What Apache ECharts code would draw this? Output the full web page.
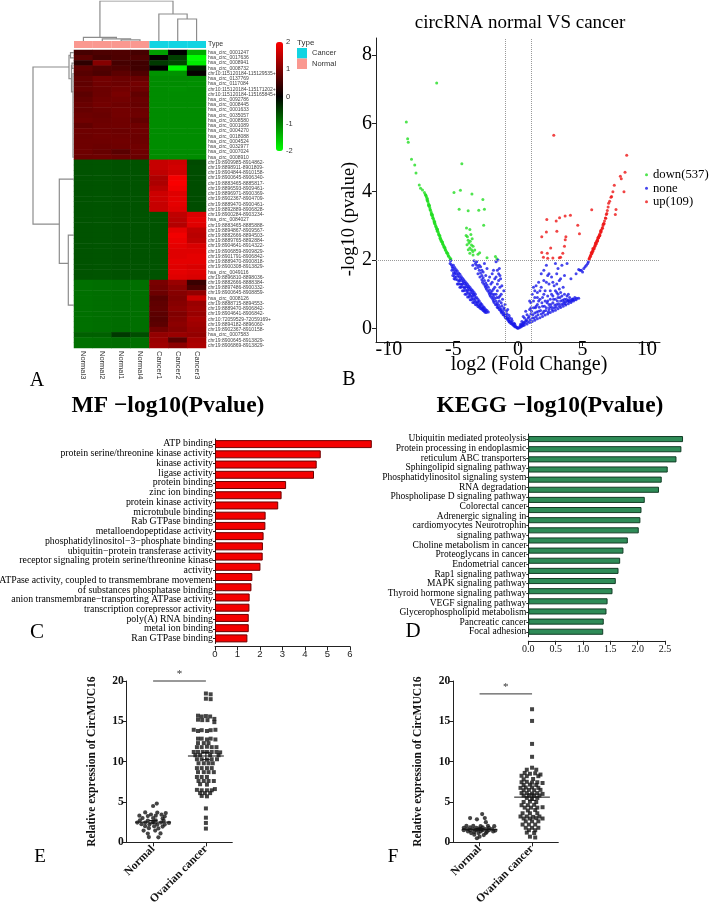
<!DOCTYPE html>
<html><head><meta charset="utf-8">
<script src="https://cdn.jsdelivr.net/npm/echarts@6/dist/echarts.min.js"></script>
<style>html,body{margin:0;padding:0;background:#fff}#chart{width:709px;height:908px}</style>
</head><body><div id="chart"></div>
<script>
const SERIF = "'Liberation Serif','Times New Roman',serif";
const SANS = "'Liberation Sans',Arial,sans-serif";

// ---------- Panel A: heatmap ----------
const samples = ['Normal3','Normal2','Normal1','Normal4','Cancer1','Cancer2','Cancer3'];
const sampleType = ['Normal','Normal','Normal','Normal','Cancer','Cancer','Cancer'];
const circRNAs = [
'hsa_circ_0001247','hsa_circ_0017636','hsa_circ_0008941','hsa_circ_0008732','chr10:115120184-115129535+','hsa_circ_0137769','hsa_circ_0117084','chr10:115120184-115171202+','chr10:115120184-115165845+','hsa_circ_0092786','hsa_circ_0008445','hsa_circ_0001633','hsa_circ_0035057','hsa_circ_0008580','hsa_circ_0001089','hsa_circ_0004270','hsa_circ_0018088','hsa_circ_0004524','hsa_circ_0032977','hsa_circ_0007024','hsa_circ_0008910',
'chr19:8909985-8914862-','chr19:8898911-8901809-','chr19:8904844-8910158-','chr19:8900645-8906340-','chr19:8883465-8885817-','chr19:8896593-8909461-','chr19:8896971-8900369-','chr19:8902367-8904709-','chr19:8889470-8900461-','chr19:8892889-8906828-',
'chr19:8900284-8903234-','hsa_circ_0084027','chr19:8883465-8885888-','chr19:8894867-8909567-','chr19:8882666-8894503-','chr19:8889765-8892884-','chr19:8904641-8914322-','chr19:8906859-8909829-','chr19:8901791-8906842-','chr19:8889470-8900818-','chr19:8900308-8913829-','hsa_circ_0049116','chr19:8896810-8898036-',
'chr19:8882666-8888384-','chr19:8897486-8900332-','chr19:8900645-8908859-','hsa_circ_0008126','chr19:8888715-8894553-','chr19:8889470-8906842-','chr19:8904641-8906842-','chr10:72059529-72059169+','chr19:8894182-8896060-','chr19:8902367-8910158-','hsa_circ_0007583','chr19:8900645-8913829-','chr19:8906869-8913829-'
];
const expression = [
[0.55,0.60,0.62,0.55,-1.25,0.00,-1.35],
[0.72,0.55,0.60,0.62,0.05,-0.50,-2.00],
[0.35,1.05,0.55,0.50,-0.45,-0.55,-1.85],
[0.75,0.65,0.62,0.50,0.00,-1.95,-0.25],
[0.68,0.60,0.72,0.62,-1.15,-1.15,0.05],
[0.78,0.90,0.85,0.82,-1.10,-1.10,-1.10],
[0.75,0.88,0.85,0.90,-1.10,-1.10,-1.12],
[0.80,0.85,0.90,0.86,-1.10,-1.12,-1.10],
[0.72,0.85,0.95,0.76,-1.10,-1.10,-1.10],
[0.78,0.88,0.90,0.82,-1.10,-1.10,-1.10],
[0.82,0.90,0.86,0.80,-1.10,-1.10,-1.10],
[0.80,0.85,0.90,0.85,-1.10,-1.10,-1.10],
[0.85,0.82,0.90,0.86,-1.10,-1.10,-1.10],
[0.88,0.85,0.88,0.78,-1.10,-1.10,-1.10],
[0.78,0.86,0.88,0.86,-1.10,-1.10,-1.10],
[0.86,0.86,0.84,0.86,-1.10,-1.10,-1.10],
[0.85,0.88,0.86,0.84,-1.10,-1.10,-1.10],
[0.86,0.86,0.88,0.85,-1.10,-1.10,-1.10],
[0.86,0.84,0.86,0.88,-1.10,-1.10,-1.10],
[0.86,0.80,0.70,0.86,-1.10,-1.10,-1.10],
[0.84,0.86,0.82,0.84,-1.10,-1.10,-1.10],
[-0.65,-0.66,-0.64,-0.65,1.55,1.60,-0.58],
[-0.65,-0.66,-0.64,-0.65,1.55,1.65,-0.60],
[-0.65,-0.66,-0.64,-0.65,1.50,1.62,-0.60],
[-0.65,-0.66,-0.64,-0.65,1.35,1.92,-0.60],
[-0.65,-0.66,-0.64,-0.65,1.35,1.95,-0.60],
[-0.65,-0.66,-0.64,-0.65,1.45,1.90,-0.60],
[-0.65,-0.66,-0.64,-0.65,1.60,1.75,-0.60],
[-0.65,-0.66,-0.64,-0.65,1.60,1.80,-0.60],
[-0.65,-0.66,-0.64,-0.65,1.55,1.80,-0.60],
[-0.65,-0.66,-0.64,-0.65,1.55,1.75,-0.60],
[-0.65,-0.66,-0.64,-0.65,-0.65,1.50,1.72],
[-0.65,-0.66,-0.64,-0.65,-0.65,1.45,1.80],
[-0.65,-0.66,-0.64,-0.65,-0.65,1.40,1.75],
[-0.65,-0.66,-0.64,-0.65,-0.65,1.80,1.50],
[-0.65,-0.66,-0.64,-0.65,-0.65,1.90,1.45],
[-0.65,-0.66,-0.64,-0.65,-0.65,1.85,1.50],
[-0.65,-0.66,-0.64,-0.65,-0.65,1.80,1.70],
[-0.65,-0.66,-0.64,-0.65,-0.65,1.75,1.75],
[-0.65,-0.66,-0.64,-0.65,-0.65,1.75,1.80],
[-0.65,-0.66,-0.64,-0.65,-0.65,1.80,1.80],
[-0.65,-0.66,-0.64,-0.65,-0.65,1.75,1.70],
[-0.65,-0.66,-0.64,-0.65,-0.65,1.80,1.75],
[-0.65,-0.66,-0.64,-0.65,-0.65,1.75,1.70],
[-0.88,-0.86,-0.85,-0.87,0.95,1.20,0.45],
[-0.88,-0.86,-0.85,-0.87,0.90,1.10,0.60],
[-0.88,-0.86,-0.85,-0.87,0.85,1.05,1.15],
[-0.88,-0.86,-0.85,-0.87,0.70,1.00,1.60],
[-0.88,-0.86,-0.85,-0.87,0.75,1.05,1.20],
[-0.88,-0.86,-0.85,-0.87,0.78,1.10,1.25],
[-0.88,-0.86,-0.85,-0.87,0.72,1.00,1.20],
[-0.88,-0.86,-0.85,-0.87,0.68,1.05,1.30],
[-0.88,-0.86,-0.85,-0.87,0.72,1.10,1.25],
[-0.88,-0.86,-0.85,-0.87,0.90,1.05,1.20],
[-0.75,-0.75,-0.45,-0.60,1.15,1.20,1.15],
[-0.88,-0.86,-0.85,-0.87,1.20,0.70,1.30],
[-0.88,-0.86,-0.85,-0.87,1.25,1.10,1.35]
];
// dendrograms: [column position, merge height] and [merge height, row position]
const colDendrogram = [
 [[2.5,0],[2.5,1.2],[3.5,1.2],[3.5,0]],
 [[1.5,0],[1.5,2.2],[3.0,2.2],[3.0,1.2]],
 [[0.5,0],[0.5,3.7],[2.25,3.7],[2.25,2.2]],
 [[5.5,0],[5.5,22],[6.5,22],[6.5,0]],
 [[4.5,0],[4.5,27],[6.0,27],[6.0,22]],
 [[1.375,3.7],[1.375,40],[5.25,40],[5.25,27]]
];
const rowDendrogram = [
 [[0,0.5],[3.5,0.5],[3.5,1.5],[0,1.5]],
 [[0,2.5],[2,2.5],[2,3.5],[0,3.5]],
 [[0,4.5],[1,4.5],[1,20.5],[0,20.5]],
 [[2,3.0],[2.5,3.0],[2.5,8.0],[1,8.0]],
 [[3.5,1.0],[5,1.0],[5,5.5],[2.5,5.5]],
 [[5,3.25],[41,3.25],[41,33.3],[14.7,33.3]],
 [[0,24.7],[14.7,24.7],[14.7,40.8],[5.7,40.8]],
 [[0,35.4],[5.7,35.4],[5.7,48.8],[0,48.8]]
];
const colorbarTicks = [-2,-1,0,1,2];

// ---------- Panel B: volcano ----------
const volcanoDown = [
[-6.3,7.18],[-8.65,6.04],[-8.55,5.55],[-8.5,5.45],[-8.25,4.95],[-8.0,4.78],[-7.9,4.55],[-7.65,4.2],[-7.55,4.1],[-7.4,4.05],
[-7.25,3.98],[-7.15,3.9],[-7.1,3.85],[-7.06,3.79],[-7.0,3.74],[-6.97,3.7],[-6.92,3.64],[-6.88,3.58],[-6.83,3.53],[-6.79,3.47],[-6.74,3.42],[-6.7,3.37],[-6.66,3.33],[-6.61,3.27],[-6.57,3.22],[-6.52,3.17],[-6.48,3.12],[-6.43,3.07],[-6.39,3.02],[-6.34,2.97],[-6.3,2.93],[-6.26,2.89],[-6.21,2.84],[-6.16,2.79],[-6.12,2.75],[-6.07,2.7],[-6.02,2.65],[-5.97,2.6],[-5.92,2.56],[-5.87,2.52],[-5.82,2.47],[-5.77,2.43],[-5.72,2.39],[-5.67,2.35],[-5.62,2.3],[-5.56,2.26],[-5.5,2.21],[-5.43,2.16],[-5.36,2.11],[-5.28,2.07],[-5.2,2.03],
[-7.02,3.8],[-6.86,3.6],[-6.63,3.32],[-6.45,3.12],[-6.24,2.9],[-6.05,2.71],[-5.85,2.53],[-5.66,2.36],[-5.45,2.2],
[-7.18,3.92],[-7.03,3.74],[-6.94,3.61],[-6.81,3.47],[-6.72,3.35],[-6.59,3.22],[-6.5,3.12],[-6.37,2.98],[-6.28,2.89],[-6.14,2.74],[-6.04,2.64],[-5.94,2.55],[-5.84,2.47],[-5.74,2.38],[-5.64,2.3],[-5.53,2.21],[-5.4,2.12],[-5.25,2.04],[-7.12,3.88],[-6.9,3.58],[-6.68,3.31],[-6.47,3.07],[-6.25,2.84],[-6.0,2.6],
[-4.35,4.82],[-4.96,3.98],[-4.46,4.04],[-3.57,3.93],[-2.72,3.77],[-4.56,3.49],[-3.86,3.44],[-3.04,3.46],[-2.6,3.49],[-2.66,3.02],[-3.99,2.94],[-3.73,2.89],[-4.02,2.72],[-3.92,2.68],[-3.86,2.58],[-3.6,2.44],[-3.48,2.4],[-3.73,2.35],[-3.6,2.3],[-3.35,2.29],[-3.1,2.17],[-2.97,2.21],[-2.4,2.07],[-1.64,2.04],[-3.73,2.2],[-3.48,2.15],[-3.8,2.5],[-3.55,2.62],[-3.95,2.45],[-3.65,2.75],[-3.7,2.55],[-3.5,2.25],[-3.85,2.3],[-1.75,2.1]
];
const volcanoNone = [
[-5.22,1.98],[-5.26,1.9],[-5.16,1.86],[-5.1,1.8],[-5.04,1.76],[-5.0,1.85],[-4.95,1.7],[-4.9,1.78],[-4.85,1.65],[-4.8,1.72],[-4.75,1.6],[-4.7,1.68],[-4.65,1.55],[-4.6,1.62],[-4.55,1.5],[-4.5,1.58],[-4.45,1.45],[-4.4,1.52],[-4.35,1.4],[-4.3,1.47],[-4.25,1.36],[-4.2,1.42],[-4.15,1.31],[-4.1,1.37],[-4.05,1.27],[-4.0,1.33],[-3.95,1.22],[-3.9,1.28],[-3.85,1.18],[-3.8,1.23],[-3.75,1.13],[-3.7,1.19],[-3.65,1.09],[-3.6,1.14],[-3.55,1.04],[-3.5,1.1],[-3.45,1.0],[-3.4,1.05],[-3.35,0.95],[-3.3,1.0],[-3.2,0.9],[-3.1,0.85],[-3.0,0.8],[-2.9,0.74],[-2.8,0.7],[-2.7,0.64],[-2.6,0.6],[-2.5,0.55],[-2.4,0.52],[-2.3,0.48],
[-5.05,1.55],[-4.85,1.44],[-4.62,1.3],[-4.42,1.2],[-4.2,1.1],[-4.0,1.0],[-3.8,0.92],[-3.6,0.84],[-3.4,0.76],[-3.2,0.68],[-3.0,0.62],[-2.8,0.56],[-2.6,0.5],[-2.45,0.46],
[-4.9,1.6],[-4.52,1.4],[-4.3,1.3],[-4.1,1.2],[-3.9,1.12],[-3.7,1.02],[-3.5,0.96],[-3.3,0.88],[-3.1,0.78],[-2.9,0.7],[-2.7,0.6],
[-5.12,1.7],[-5.0,1.62],[-4.92,1.52],[-4.78,1.5],[-4.7,1.42],[-4.58,1.38],[-4.48,1.3],[-4.38,1.28],[-4.28,1.22],[-4.16,1.18],[-4.06,1.12],[-3.96,1.08],[-3.86,1.04],[-3.76,0.98],[-3.66,0.95],[-3.56,0.9],[-3.46,0.86],[-3.36,0.82],[-3.26,0.78],[-3.16,0.74],[-3.06,0.7],[-2.96,0.66],[-2.86,0.62],[-2.76,0.58],[-2.66,0.55],[-2.56,0.52],
[-4.95,1.45],[-4.7,1.3],[-4.5,1.2],[-4.3,1.1],[-4.1,1.0],[-3.9,0.92],[-3.7,0.84],[-3.5,0.76],[-3.3,0.7],[-3.1,0.64],[-2.9,0.58],[-2.7,0.52],[-2.55,0.47],
[-3.4,1.98],[-3.3,1.9],[-3.2,1.85],[-3.1,1.78],[-3.0,1.7],[-2.9,1.62],[-2.8,1.55],[-2.7,1.48],[-2.6,1.4],[-2.5,1.33],[-2.4,1.27],[-2.3,1.2],[-2.2,1.12],[-2.1,1.05],[-2.0,1.0],[-1.9,0.93],[-1.8,0.87],[-1.7,0.8],[-1.6,0.74],[-1.5,0.68],[-1.4,0.62],[-1.3,0.56],[-1.2,0.5],[-1.1,0.45],[-1.0,0.4],[-0.9,0.35],[-0.8,0.3],[-0.7,0.26],[-0.6,0.21],[-0.5,0.17],[-0.4,0.13],[-0.3,0.1],[-0.2,0.06],[-0.1,0.03],[0.0,0.0],
[-3.5,1.85],[-3.3,1.75],[-3.1,1.6],[-2.95,1.5],[-2.8,1.42],[-2.65,1.3],[-2.5,1.2],[-2.35,1.1],[-2.2,1.0],[-2.05,0.9],[-1.9,0.8],[-1.75,0.7],[-1.6,0.62],[-1.45,0.55],[-1.3,0.48],[-1.15,0.4],[-1.0,0.33],[-0.85,0.27],[-0.7,0.2],[-0.55,0.14],
[-3.2,1.95],[-2.9,1.8],[-2.7,1.65],[-2.5,1.55],[-2.3,1.4],[-2.1,1.3],[-1.9,1.15],[-1.7,1.0],[-1.5,0.9],[-1.3,0.75],[-1.1,0.6],[-0.9,0.5],[-0.7,0.38],[-0.5,0.28],[-0.3,0.15],
[-2.45,1.15],[-2.25,1.05],[-2.15,0.95],[-1.95,0.85],[-1.85,0.76],[-1.65,0.68],[-1.55,0.6],[-1.35,0.52],[-1.25,0.45],[-1.05,0.38],[-0.95,0.3],[-0.75,0.24],[-0.65,0.18],[-0.45,0.12],[-0.35,0.08],[-0.25,0.05],[-0.15,0.04],[-0.05,0.01],
[-2.75,1.35],[-2.55,1.25],[-2.0,1.1],[-1.85,1.0],[-1.65,0.9],[-1.45,0.8],[-1.25,0.66],[-1.05,0.55],[-0.85,0.42],[-0.65,0.32],[-0.45,0.22],[-0.25,0.12],
[-3.0,1.85],[-2.8,1.7],[-2.2,1.5],[-2.0,1.35],[-1.6,1.1],[-1.4,0.95],[-1.6,1.7],[-1.5,1.4],[-1.4,1.55],[-1.7,1.5],[-1.25,1.25],
[-2.0,1.6],[-1.8,1.45],[-1.6,1.3],[-1.5,1.6],[-1.4,1.2],[-1.3,1.0],[-1.7,1.95],[-1.55,2.0],[-1.2,0.85],[-1.0,0.7],[-0.8,0.55],[-1.45,1.75],[-1.9,1.7],[-2.4,1.75],[-2.6,1.9],[-1.35,1.45],[-1.1,1.1],[-1.8,1.2],
[0.1,0.02],[0.2,0.04],[0.3,0.06],[0.4,0.08],[0.5,0.1],[0.7,0.13],[0.9,0.17],[1.1,0.2],[1.3,0.24],[1.5,0.28],[1.7,0.31],[1.9,0.35],[2.1,0.39],[2.3,0.42],[2.5,0.46],[2.7,0.5],[2.9,0.53],[3.1,0.57],[3.3,0.61],[3.5,0.65],[3.7,0.68],[3.9,0.72],[4.1,0.76],[4.3,0.8],[4.5,0.84],[4.7,0.88],
[0.2,0.12],[0.3,0.2],[0.4,0.15],[0.5,0.3],[0.6,0.22],[0.7,0.4],[0.8,0.3],[0.9,0.55],[1.0,0.42],[1.0,0.75],[1.1,0.3],[1.2,0.6],[1.3,0.45],[1.3,0.9],[1.4,0.35],[1.5,0.7],[1.5,1.05],[1.6,0.5],[1.7,0.85],[1.8,0.42],[1.8,1.2],[1.9,0.65],[2.0,1.0],[2.0,0.5],[2.1,0.8],[2.2,0.6],[2.2,1.35],[2.3,0.95],[2.4,0.7],[2.4,0.55],[2.5,1.1],[2.5,0.85],[2.6,0.62],[2.7,0.95],[2.7,0.75],[2.8,1.25],[2.8,0.6],[2.9,0.85],[3.0,1.05],[3.0,0.7],[3.1,0.9],[3.2,0.65],[3.2,1.15],[3.3,0.8],[3.4,0.95],[3.5,0.72],[3.5,1.2],[3.6,0.85],[3.7,0.78],[3.8,0.95],[3.9,0.82],[4.0,0.9],[4.2,0.85],[4.4,0.9],
[0.15,0.06],[0.25,0.1],[0.35,0.12],[0.45,0.18],[0.55,0.16],[0.65,0.25],[0.75,0.2],[0.85,0.35],[0.95,0.25],[1.05,0.5],[1.15,0.4],[1.25,0.3],[1.35,0.6],[1.45,0.48],[1.55,0.4],[1.65,0.62],[1.75,0.52],[1.85,0.75],[1.95,0.45],[2.05,0.65],[2.15,0.52],[2.25,0.75],[2.35,0.48],[2.45,0.62],[2.55,0.7],[2.65,0.55],[2.75,0.85],[2.85,0.68],[2.95,0.62],[3.05,0.8],[3.15,0.72],[3.25,0.9],[3.35,0.7],[3.45,0.82],[3.55,0.78],[3.65,0.72],[3.75,0.85],[3.85,0.8],[3.95,0.78],[4.05,0.82],[4.15,0.8],[4.25,0.86],[4.35,0.84],[4.55,0.88],
[1.0,0.6],[1.2,0.8],[1.4,0.65],[1.6,0.8],[1.9,0.9],[2.1,1.1],[2.3,0.8],[2.6,1.0],[2.9,1.1],[3.1,1.0],[3.3,1.05],[3.6,1.0],[3.9,1.0],[2.4,1.3],[2.7,1.35],[3.0,1.3],[1.7,1.1],[1.5,0.9],[2.0,1.7],[2.3,1.55],[3.2,1.4],[1.3,1.1],
[2.6,1.5],[3.0,1.6],[3.3,1.45],[2.9,1.9],[3.1,1.75],[2.4,1.6],[2.2,1.85],[2.0,1.4],[1.8,1.6],[1.6,1.35],[1.4,1.25],[1.2,1.2],[3.6,1.55],[4.1,1.45],[4.5,1.6],[4.8,1.7],[3.8,1.9],[3.4,1.85],[1.1,1.0],[0.9,0.8],[0.6,0.5],[0.4,0.35],
[4.9,1.7],[5.1,1.75],[5.2,1.8],[5.3,1.85],[5.4,1.9],[5.45,1.95],[5.0,1.65],[4.7,1.72]
];
const volcanoUp = [
[2.77,5.65],[8.42,5.07],[8.29,4.57],[7.93,4.45],[8.0,4.38],[7.46,4.19],[8.21,4.0],[7.25,3.86],[7.02,3.66],[7.59,3.48],[7.54,3.33],[5.71,3.47],[4.06,3.31],[3.65,3.29],[3.22,3.24],[2.23,3.19],[2.96,3.14],[3.01,2.84],[2.2,2.82],[4.63,3.02],[4.76,2.77],[1.84,2.68],[3.71,2.68],[3.66,2.59],[2.53,2.35],[2.27,2.2],[1.84,2.22],[1.97,2.08],[2.3,2.05],[2.7,2.06],[3.2,2.07],[3.3,2.08],[3.6,2.4],[3.47,2.2],
[5.5,2.03],[5.56,2.08],[5.6,2.12],[5.65,2.16],[5.7,2.2],[5.74,2.23],[5.78,2.27],[5.83,2.31],[5.87,2.34],[5.92,2.38],[5.96,2.42],[6.0,2.46],[6.05,2.5],[6.09,2.54],[6.13,2.58],[6.18,2.62],[6.22,2.66],[6.27,2.7],[6.31,2.74],[6.36,2.78],[6.41,2.83],[6.46,2.88],[6.52,2.94],[6.58,3.0],[6.64,3.07],[6.7,3.14],[6.77,3.23],[6.84,3.33],[6.92,3.45],[6.98,3.55],[7.1,3.72],[7.2,3.84],[7.35,4.0],
[5.8,2.34],[6.0,2.5],[6.2,2.66],[6.4,2.86],[6.6,3.05],[6.15,2.55],[6.34,2.72],[5.68,2.22],
[5.53,2.04],[5.62,2.11],[5.72,2.18],[5.8,2.26],[5.9,2.33],[5.98,2.41],[6.07,2.48],[6.16,2.57],[6.25,2.65],[6.33,2.71],[6.44,2.83],[6.55,2.93],[6.67,3.06],[6.8,3.22],[6.88,3.36]
];
const foldThresholds = [-1, 1];
const pThreshold = 2;
const volcanoXTicks = [-10,-5,0,5,10];
const volcanoYTicks = [0,2,4,6,8];

// ---------- Panel C: GO MF ----------
const mfTerms = ['ATP binding','protein serine/threonine kinase activity','kinase activity','ligase activity','protein binding','zinc ion binding','protein kinase activity','microtubule binding','Rab GTPase binding','metalloendopeptidase activity','phosphatidylinositol-3-phosphate binding','ubiquitin-protein transferase activity','receptor signaling protein serine/threonine kinase activity','ATPase activity, coupled to transmembrane movement of substances','phosphatase binding','anion transmembrane-transporting ATPase activity','transcription corepressor activity','poly(A) RNA binding','metal ion binding','Ran GTPase binding'];
const mfValues = [6.97,4.70,4.52,4.40,3.16,2.96,2.81,2.25,2.24,2.16,2.13,2.12,2.02,1.66,1.62,1.54,1.53,1.50,1.50,1.44];
const mfLabelLines = ['ATP binding','protein serine/threonine kinase activity','kinase activity','ligase activity','protein binding','zinc ion binding','protein kinase activity','microtubule binding','Rab GTPase binding','metalloendopeptidase activity','phosphatidylinositol\u22123\u2212phosphate binding','ubiquitin\u2212protein transferase activity','receptor signaling protein serine/threonine kinase','activity','ATPase activity, coupled to transmembrane movement','of substances phosphatase binding','anion transmembrane\u2212transporting ATPase activity','transcription corepressor activity','poly(A) RNA binding','metal ion binding','Ran GTPase binding'];

// ---------- Panel D: KEGG ----------
const keggTerms = ['Ubiquitin mediated proteolysis','Protein processing in endoplasmic reticulum','ABC transporters','Sphingolipid signaling pathway','Phosphatidylinositol signaling system','RNA degradation','Phospholipase D signaling pathway','Colorectal cancer','Adrenergic signaling in cardiomyocytes','Neurotrophin signaling pathway','Choline metabolism in cancer','Proteoglycans in cancer','Endometrial cancer','Rap1 signaling pathway','MAPK signaling pathway','Thyroid hormone signaling pathway','VEGF signaling pathway','Glycerophospholipid metabolism','Pancreatic cancer','Focal adhesion'];
const keggValues = [2.83,2.80,2.71,2.55,2.44,2.39,2.13,2.07,2.05,2.02,1.82,1.74,1.68,1.65,1.60,1.54,1.45,1.43,1.38,1.37];
const keggLabelLines = ['Ubiquitin mediated proteolysis','Protein processing in endoplasmic','reticulum ABC transporters','Sphingolipid signaling pathway','Phosphatidylinositol signaling system','RNA degradation','Phospholipase D signaling pathway','Colorectal cancer','Adrenergic signaling in','cardiomyocytes Neurotrophin','signaling pathway','Choline metabolism in cancer','Proteoglycans in cancer','Endometrial cancer','Rap1 signaling pathway','MAPK signaling pathway','Thyroid hormone signaling pathway','VEGF signaling pathway','Glycerophospholipid metabolism','Pancreatic cancer','Focal adhesion'];

// ---------- Panels E, F: CircMUC16 expression ----------
const groups = ['Normal','Ovarian cancer'];
const eNormal = [[0.07,4.8],[0.0,4.5],[-0.15,3.7],[0.08,3.68],[0.24,3.62],[-0.04,3.45],[0.16,3.42],[-0.26,3.3],[-0.1,3.25],[0.05,3.3],[0.22,3.2],[-0.2,3.0],[0.0,3.0],[0.18,2.95],[-0.25,2.72],[-0.1,2.7],[0.05,2.72],[0.2,2.68],[-0.3,2.45],[-0.15,2.45],[0.0,2.5],[0.15,2.45],[0.3,2.4],[-0.22,2.25],[-0.07,2.22],[0.08,2.2],[0.22,2.2],[-0.15,2.0],[0.02,1.98],[0.18,1.95],[-0.08,1.75],[0.1,1.72],[-0.18,1.45],[0.04,1.45],[-0.1,1.08],[0.14,1.1],[-0.08,0.65],[0.1,0.62]];
const eCancer = [[1.0,18.45],[1.09,18.35],[1.0,17.8],[1.09,17.75],
[0.85,15.7],[0.92,15.6],[1.0,15.65],[1.08,15.6],[1.16,15.3],[0.85,15.2],[0.93,15.15],[1.03,15.15],[1.16,14.9],
[0.77,13.95],[0.85,13.8],[0.92,13.9],[1.02,13.8],[1.09,13.9],[1.18,13.95],
[0.85,12.85],[0.92,12.85],[1.02,12.75],[1.09,12.85],[1.18,12.75],[0.85,12.3],[0.96,12.3],[1.05,12.3],
[0.83,11.8],[0.92,11.8],[1.02,11.85],[1.11,11.8],[1.2,11.8],
[0.77,11.2],[0.85,11.2],[0.94,11.2],[1.02,11.2],[1.11,11.2],[1.2,11.2],[1.27,11.15],
[0.8,10.8],[0.89,10.8],[1.08,10.8],[1.24,10.8],
[0.83,10.3],[0.92,10.3],[1.02,10.25],[1.11,10.3],[1.21,10.3],
[0.86,9.8],[0.96,9.8],[1.05,9.8],[1.13,9.8],
[0.83,9.2],[0.92,9.2],[1.02,9.2],[1.11,9.2],
[0.85,8.7],[0.96,8.7],[1.05,8.7],[1.15,8.7],
[0.83,8.1],[0.92,8.1],[1.02,8.1],
[0.86,7.6],[0.96,7.6],[1.05,7.6],[1.15,7.6],[0.89,7.2],[1.02,7.15],
[0.83,6.5],[0.92,6.45],[1.02,6.45],[1.11,6.45],[1.17,6.6],[0.89,6.1],[0.98,6.1],[1.08,6.1],[0.92,5.75],[1.02,5.7],
[1.0,4.2],[1.0,3.05],[1.0,2.4],[1.0,1.7]];
const fNormal = [[0.05,3.5],[-0.18,3.0],[0.1,3.0],[-0.05,2.85],[0.12,2.5],[-0.25,2.05],[-0.12,2.05],[0.02,2.0],[0.16,2.05],[0.28,2.0],[-0.3,1.8],[-0.18,1.85],[-0.06,1.8],[0.06,1.85],[0.18,1.8],[-0.24,1.65],[-0.12,1.65],[0.0,1.7],[0.12,1.65],[0.24,1.65],[-0.3,1.5],[-0.18,1.5],[-0.06,1.5],[0.06,1.5],[0.18,1.5],[0.3,1.45],[-0.22,1.35],[-0.1,1.3],[0.02,1.35],[0.14,1.3],[0.26,1.35],[-0.16,1.15],[-0.02,1.15],[0.12,1.15],[-0.1,0.95],[0.08,0.9],[0.0,0.7],[-0.05,0.5]];
const fCancer = [[1.0,16.5],[1.0,15.05],[1.0,12.2],[1.0,10.6],[1.0,9.25],[0.9,9.0],[1.08,9.0],[0.86,8.6],[0.96,8.5],[1.06,8.55],[1.16,8.4],[0.8,8.25],[0.9,8.2],[1.12,8.2],[0.84,7.8],[1.02,7.85],[0.8,7.45],[0.9,7.5],[1.0,7.4],[1.1,7.45],[1.2,7.35],[0.84,7.1],[0.96,7.15],[1.08,7.1],[0.78,6.75],[0.88,6.8],[1.0,6.8],[1.12,6.75],[0.84,6.45],[0.94,6.5],[1.04,6.45],[1.16,6.5],[0.8,6.1],[0.9,6.1],[1.0,6.05],[1.1,6.1],[1.2,6.0],[0.84,5.8],[0.94,5.8],[1.04,5.75],[1.14,5.8],[0.9,5.5],[1.0,5.45],[1.1,5.5],[0.84,5.0],[0.96,5.05],[1.08,5.0],[0.8,4.6],[0.92,4.6],[1.04,4.65],[0.86,4.3],[0.98,4.3],[1.1,4.3],[1.2,4.35],[0.92,3.95],[1.06,4.0],[0.82,3.6],[0.96,3.6],[1.1,3.6],[0.78,3.2],[0.9,3.2],[1.02,3.15],[1.14,3.2],[0.84,2.95],[0.96,2.95],[1.08,3.0],[1.2,2.95],[0.88,2.6],[1.0,2.6],[1.12,2.6],[0.82,2.2],[0.94,2.2],[1.06,2.2],[0.88,1.8],[1.0,1.8],[1.12,1.8],[0.94,1.5],[1.06,1.5],[0.9,1.2],[1.04,1.15],[0.96,0.7],[1.06,0.6]];
const eStats = [[0,2.5,0.2],[1,10.7,0.45]];   // group, mean, SEM
const fStats = [[0,1.6,0.12],[1,5.6,0.4]];
const eSig = [[0,1,20]];
const fSig = [[0,1,18.4]];

// ---------- build ----------
const heatData = [];
expression.forEach((row, r) => row.forEach((v, c) => heatData.push([c, r, v])));

function meanRender(params, api) {
  const x = api.value(0), m = api.value(1), s = api.value(2);
  const a = api.coord([x - 0.34, m]), b = api.coord([x + 0.34, m]);
  const t = api.coord([x, m + s]), u = api.coord([x, m - s]);
  const st = {stroke:'#111', lineWidth:1};
  return {type:'group', children:[
    {type:'line', shape:{x1:a[0],y1:a[1],x2:b[0],y2:b[1]}, style:st},
    {type:'line', shape:{x1:t[0],y1:t[1],x2:u[0],y2:u[1]}, style:st},
    {type:'line', shape:{x1:t[0]-4,y1:t[1],x2:t[0]+4,y2:t[1]}, style:st},
    {type:'line', shape:{x1:u[0]-4,y1:u[1],x2:u[0]+4,y2:u[1]}, style:st}
  ]};
}
function sigRender(params, api) {
  const p = api.coord([api.value(0), api.value(2)]), q = api.coord([api.value(1), api.value(2)]);
  return {type:'group', children:[
    {type:'line', shape:{x1:p[0],y1:p[1],x2:q[0],y2:q[1]}, style:{stroke:'#333', lineWidth:1}},
    {type:'text', x:(p[0]+q[0])/2, y:p[1]-1, style:{text:'*', fontSize:11, fontFamily:SERIF, fill:'#333', align:'center', verticalAlign:'bottom', textAlign:'center', textVerticalAlign:'bottom'}}
  ]};
}

const G = (o) => Object.assign({outerBoundsMode:'none', containLabel:false}, o);
const grid = [
  G({left:74, top:50, width:132, height:298}),
  G({left:74, top:41, width:132, height:7}),
  G({left:74, top:1, width:132, height:40}),
  G({left:30, top:50, width:44, height:298}),
  G({left:276, top:42, width:7, height:109}),
  G({left:376, top:38, width:284, height:304}),
  G({left:215, top:439, width:135, height:204.5}),
  G({left:528.3, top:434, width:136.7, height:202.8}),
  G({left:126.7, top:681, width:105.6, height:161.3}),
  G({left:453.3, top:681, width:105, height:161.3})
];
const hidden = {show:false};
const AX = '#222';
const serifLbl = {fontFamily:SERIF, color:'#000'};
const efYAxis = (gi) => ({gridIndex:gi, type:'value', min:0, max:20, interval:5,
  axisLine:{show:true, onZero:false, lineStyle:{color:AX}}, axisTick:{show:true, length:4, lineStyle:{color:AX}},
  splitLine:{show:false}, axisLabel:{fontSize:11.5, fontWeight:'bold', fontFamily:SERIF, color:'#111', margin:3},
  name:'Relative expression of CircMUC16', nameLocation:'middle', nameGap:29, nameRotate:90, nameMoveOverlap:false,
  nameTextStyle:{fontSize:11.5, fontWeight:'bold', fontFamily:SERIF, color:'#111'}});
const efXCat = (gi) => ({gridIndex:gi, type:'category', data:groups, boundaryGap:true, position:'bottom',
  axisLine:{show:true, lineStyle:{color:AX}}, axisTick:{show:true, alignWithLabel:true, length:4, lineStyle:{color:AX}},
  axisLabel:{rotate:45, interval:0, fontSize:11.5, fontWeight:'bold', fontFamily:SERIF, color:'#111', margin:5}});
const efXVal = (gi) => ({gridIndex:gi, type:'value', min:-0.5, max:1.5, show:false, position:'top', axisLine:{onZero:false}});

const xAxis = [
  {gridIndex:0, type:'category', data:samples, position:'bottom', axisLine:hidden, axisTick:hidden, splitLine:hidden,
    axisLabel:{rotate:-90, interval:0, fontSize:7.5, fontFamily:SANS, color:'#333', margin:3}},
  {gridIndex:1, type:'category', data:samples, show:false},
  {gridIndex:2, type:'value', min:0, max:7, show:false},
  {gridIndex:3, type:'value', min:0, max:44, inverse:true, show:false},
  {gridIndex:4, type:'value', min:0, max:1, show:false},
  {gridIndex:5, type:'value', min:-11, max:11, splitLine:hidden,
    axisLine:{show:true, onZero:false, lineStyle:{color:AX}},
    axisTick:{show:true, customValues:volcanoXTicks, length:4, lineStyle:{color:AX}},
    axisLabel:Object.assign({customValues:volcanoXTicks, fontSize:20, margin:-2}, serifLbl),
    name:'log2 (Fold Change)', nameLocation:'middle', nameGap:13, nameMoveOverlap:false,
    nameTextStyle:{fontSize:20, fontFamily:SERIF, color:'#000', padding:[0,0,0,22]}},
  {gridIndex:6, type:'value', min:0, max:6, interval:1, offset:3, splitLine:hidden,
    axisLine:{show:true, onZero:false, lineStyle:{color:AX}}, axisTick:{show:true, length:4, lineStyle:{color:AX}},
    axisLabel:{fontSize:9.5, fontFamily:SANS, color:'#222', margin:3}},
  {gridIndex:7, type:'value', min:0, max:2.5, interval:0.5, offset:4, splitLine:hidden,
    axisLine:{show:true, onZero:false, lineStyle:{color:AX}}, axisTick:{show:true, length:4, lineStyle:{color:AX}},
    axisLabel:{fontSize:10, fontFamily:SERIF, color:'#111', margin:4, formatter:(v)=>v.toFixed(1)}},
  efXCat(8), efXVal(8), efXCat(9), efXVal(9)
];
const yAxis = [
  {gridIndex:0, type:'category', data:circRNAs, inverse:true, position:'right', axisLine:hidden, axisTick:hidden, splitLine:hidden,
    axisLabel:{interval:0, fontSize:5, fontFamily:SANS, color:'#444', margin:2}},
  {gridIndex:1, type:'value', min:0, max:1, show:false},
  {gridIndex:2, type:'value', min:0, max:40, show:false},
  {gridIndex:3, type:'value', min:0, max:57, inverse:true, show:false},
  {gridIndex:4, type:'value', min:-2, max:2, interval:1, position:'right', axisLine:hidden, axisTick:hidden, splitLine:hidden,
    axisLabel:{fontSize:7.5, fontFamily:SANS, color:'#333', margin:3, customValues:colorbarTicks}},
  {gridIndex:5, type:'value', min:-0.4, max:8.5, splitLine:hidden,
    axisLine:{show:true, onZero:false, lineStyle:{color:AX}},
    axisTick:{show:true, customValues:volcanoYTicks, length:4, lineStyle:{color:AX}},
    axisLabel:Object.assign({customValues:volcanoYTicks, fontSize:20, margin:4}, serifLbl),
    name:'-log10 (pvalue)', nameLocation:'middle', nameGap:17, nameRotate:90, nameMoveOverlap:false,
    nameTextStyle:{fontSize:18.5, fontFamily:SERIF, color:'#000', padding:[0,58,0,0]}},
  {gridIndex:6, type:'category', data:mfTerms, inverse:true, position:'left',
    axisLine:{show:true, onZero:false, lineStyle:{color:AX}}, axisTick:hidden, axisLabel:hidden},
  {gridIndex:6, type:'category', data:mfLabelLines, inverse:true, position:'left', axisLine:hidden,
    axisTick:{show:true, alignWithLabel:true, interval:0, length:2, lineStyle:{color:AX}},
    axisLabel:{interval:0, fontSize:9.8, fontFamily:SERIF, color:'#000', margin:2}},
  {gridIndex:7, type:'category', data:keggTerms, inverse:true, position:'left',
    axisLine:{show:true, onZero:false, lineStyle:{color:AX}}, axisTick:hidden, axisLabel:hidden},
  {gridIndex:7, type:'category', data:keggLabelLines, inverse:true, position:'left', axisLine:hidden,
    axisTick:{show:true, alignWithLabel:true, interval:0, length:2, lineStyle:{color:AX}},
    axisLabel:{interval:0, fontSize:9.5, fontFamily:SERIF, color:'#000', margin:2}},
  efYAxis(8), efYAxis(9)
];

const scatterBase = {type:'scatter', xAxisIndex:5, yAxisIndex:5, silent:true, symbol:'circle'};
const series = [
  {type:'heatmap', name:'expression', xAxisIndex:0, yAxisIndex:0, data:heatData, silent:true, progressive:0},
  {type:'bar', name:'Normal', xAxisIndex:1, yAxisIndex:1, barWidth:'100%', barGap:'-100%', silent:true,
    data:sampleType.map(t => t === 'Normal' ? 1 : '-'), itemStyle:{color:'#fa9890'}},
  {type:'bar', name:'Cancer', xAxisIndex:1, yAxisIndex:1, barWidth:'100%', barGap:'-100%', silent:true,
    data:sampleType.map(t => t === 'Cancer' ? 1 : '-'), itemStyle:{color:'#12d4e2'}},
  {type:'lines', coordinateSystem:'cartesian2d', xAxisIndex:2, yAxisIndex:2, polyline:true, silent:true,
    data:colDendrogram.map(c => ({coords:c})), lineStyle:{color:'#8c8c8c', width:1.2, opacity:1}},
  {type:'lines', coordinateSystem:'cartesian2d', xAxisIndex:3, yAxisIndex:3, polyline:true, silent:true,
    data:rowDendrogram.map(c => ({coords:c})), lineStyle:{color:'#8c8c8c', width:1.2, opacity:1}},
  Object.assign({}, scatterBase, {name:'down(537)', data:volcanoDown, symbolSize:3, itemStyle:{color:'#22dd22'}}),
  Object.assign({}, scatterBase, {name:'none', data:volcanoNone, symbolSize:3, itemStyle:{color:'#1818e8'},
    markLine:{silent:true, symbol:'none', label:{show:false}, animation:false,
      lineStyle:{type:'dotted', color:'#999', width:1},
      data:[{xAxis:foldThresholds[0]},{xAxis:foldThresholds[1]},{yAxis:pThreshold}]}}),
  Object.assign({}, scatterBase, {name:'up(109)', data:volcanoUp, symbolSize:3, itemStyle:{color:'#ee1515'}}),
  {type:'bar', name:'MF', xAxisIndex:6, yAxisIndex:6, data:mfValues, barCategoryGap:'22%', clip:false, silent:true,
    itemStyle:{color:'#f40000', borderColor:'#6e0000', borderWidth:1}},
  {type:'bar', name:'KEGG', xAxisIndex:7, yAxisIndex:8, data:keggValues, barCategoryGap:'40%', clip:false, silent:true,
    itemStyle:{color:'#2e8b57', borderColor:'#123d26', borderWidth:1}},
  {type:'scatter', name:'E normal', xAxisIndex:9, yAxisIndex:10, data:eNormal, symbol:'circle', symbolSize:4.2, silent:true, itemStyle:{color:'#151515'}},
  {type:'scatter', name:'E cancer', xAxisIndex:9, yAxisIndex:10, data:eCancer, symbol:'rect', symbolSize:4, silent:true, itemStyle:{color:'#151515'}},
  {type:'custom', name:'E mean', xAxisIndex:9, yAxisIndex:10, data:eStats, renderItem:meanRender, silent:true, encode:{x:0, y:1}},
  {type:'custom', name:'E sig', xAxisIndex:9, yAxisIndex:10, data:eSig, renderItem:sigRender, silent:true, encode:{x:[0,1], y:2}},
  {type:'scatter', name:'F normal', xAxisIndex:11, yAxisIndex:11, data:fNormal, symbol:'circle', symbolSize:4.2, silent:true, itemStyle:{color:'#151515'}},
  {type:'scatter', name:'F cancer', xAxisIndex:11, yAxisIndex:11, data:fCancer, symbol:'rect', symbolSize:4, silent:true, itemStyle:{color:'#151515'}},
  {type:'custom', name:'F mean', xAxisIndex:11, yAxisIndex:11, data:fStats, renderItem:meanRender, silent:true, encode:{x:0, y:1}},
  {type:'custom', name:'F sig', xAxisIndex:11, yAxisIndex:11, data:fSig, renderItem:sigRender, silent:true, encode:{x:[0,1], y:2}}
];

function txt(text, x, y, size, opts) {
  return {type:'text', x:x, y:y, silent:true, style:Object.assign({text:text, fontSize:size, fontFamily:SERIF, fill:'#000',
    align:'center', verticalAlign:'middle', textAlign:'center', textVerticalAlign:'middle'}, opts || {})};
}
const graphic = [
  txt('circRNA normal VS cancer', 520, 23, 19),
  txt('MF \u2212log10(Pvalue)', 168, 406, 23.5, {fontWeight:'bold'}),
  txt('KEGG \u2212log10(Pvalue)', 550, 406, 23.5, {fontWeight:'bold'}),
  txt('A', 37, 381, 20), txt('B', 349, 380, 20), txt('C', 37, 632, 21), txt('D', 413, 631, 21),
  txt('E', 40, 857, 19), txt('F', 393, 857, 19),
  txt('Type', 208, 44.5, 7, {fontFamily:SANS, fill:'#333', align:'left', textAlign:'left'}),
  txt('Type', 297, 43, 8, {fontFamily:SANS, fill:'#333', align:'left', textAlign:'left'})
];

const option = {
  animation:false,
  backgroundColor:'#fff',
  textStyle:{fontFamily:SANS},
  grid, xAxis, yAxis, series, graphic,
  visualMap:{type:'continuous', seriesIndex:0, min:-2, max:2, calculable:false, show:true, orient:'vertical',
    left:276, top:42, itemWidth:7, itemHeight:109, padding:0, text:null, showLabel:false,
    inRange:{color:['#00ff00','#000000','#ff0000']}},
  legend:[
    {data:['Cancer','Normal'], orient:'vertical', left:297, top:48, padding:0, itemWidth:10, itemHeight:10.5, itemGap:0,
      icon:'rect', selectedMode:false, textStyle:{fontSize:7.5, fontFamily:SANS, color:'#333'}},
    {data:['down(537)','none','up(109)'], orient:'vertical', left:645, top:168, padding:0, itemWidth:3, itemHeight:3, itemGap:0,
      icon:'circle', selectedMode:false, textStyle:{fontSize:12.7, fontFamily:SERIF, color:'#000', lineHeight:13.5}}
  ]
};
const chart = echarts.init(document.getElementById('chart'), null, {renderer:'canvas'});
chart.setOption(option);
</script></body></html>
